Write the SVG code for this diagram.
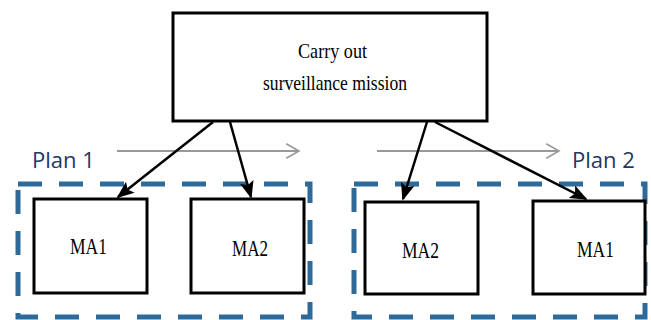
<svg xmlns="http://www.w3.org/2000/svg" width="651" height="320" viewBox="0 0 651 320">
<defs>
<style>
.box{fill:#fff;stroke:#000;stroke-width:3}
.t{font-family:"Liberation Serif",serif;font-size:22px;fill:#000}
.m{font-family:"Liberation Serif",serif;font-size:24px;fill:#000}
.plan{fill:none;stroke:#2E6A9A;stroke-width:5;stroke-dasharray:24 17}
.pl{font-family:"Open Sans",sans-serif;font-size:22px;fill:#1F3864}
.ar{stroke:#000;stroke-width:2.5;fill:none}
.gr{stroke:#999;stroke-width:2;fill:none}
</style>
<marker id="ah" viewBox="0 0 10 10" refX="9" refY="5" markerWidth="7" markerHeight="7" orient="auto" markerUnits="strokeWidth">
<path d="M0,1 L10,5 L0,9 L2,5 Z" fill="#000"/>
</marker>
<marker id="ga" viewBox="0 0 10 10" refX="9" refY="5" markerWidth="8" markerHeight="8" orient="auto" markerUnits="strokeWidth">
<path d="M1,0.5 L9,5 L1,9.5" fill="none" stroke="#999" stroke-width="1"/>
</marker>
</defs>
<g id="plan1">
<rect class="plan" x="18" y="184" width="292" height="133"/>
<text class="pl" x="32" y="168">Plan 1</text>
</g>
<g id="plan2">
<rect class="plan" x="354" y="184" width="291" height="133"/>
<text class="pl" x="572" y="168">Plan 2</text>
</g>
<g id="mission">
<rect class="box" x="173" y="13" width="314" height="108"/>
<text class="t" x="298" y="58" textLength="69" lengthAdjust="spacingAndGlyphs">Carry out</text>
<text class="t" x="263" y="90" textLength="144" lengthAdjust="spacingAndGlyphs">surveillance mission</text>
</g>
<g id="p1ma1">
<rect class="box" x="34" y="199" width="113" height="94"/>
<text class="m" x="70" y="254" textLength="37" lengthAdjust="spacingAndGlyphs">MA1</text>
</g>
<g id="p1ma2">
<rect class="box" x="191" y="199" width="113" height="94"/>
<text class="m" x="232" y="256" textLength="36" lengthAdjust="spacingAndGlyphs">MA2</text>
</g>
<g id="p2ma2">
<rect class="box" x="365" y="202" width="113" height="92"/>
<text class="m" x="402" y="258" textLength="37" lengthAdjust="spacingAndGlyphs">MA2</text>
</g>
<g id="p2ma1">
<rect class="box" x="533" y="201" width="112" height="93"/>
<text class="m" x="577" y="257" textLength="37" lengthAdjust="spacingAndGlyphs">MA1</text>
</g>
<g id="connectors">
<line class="gr" x1="117" y1="151" x2="299" y2="151" marker-end="url(#ga)"/>
<line class="gr" x1="377" y1="151" x2="559" y2="151" marker-end="url(#ga)"/>
<line class="ar" x1="213" y1="122" x2="118" y2="197" marker-end="url(#ah)"/>
<line class="ar" x1="230" y1="122" x2="251" y2="197" marker-end="url(#ah)"/>
<line class="ar" x1="427" y1="122" x2="403" y2="199" marker-end="url(#ah)"/>
<line class="ar" x1="435" y1="122" x2="586" y2="199" marker-end="url(#ah)"/>
</g>
</svg>
